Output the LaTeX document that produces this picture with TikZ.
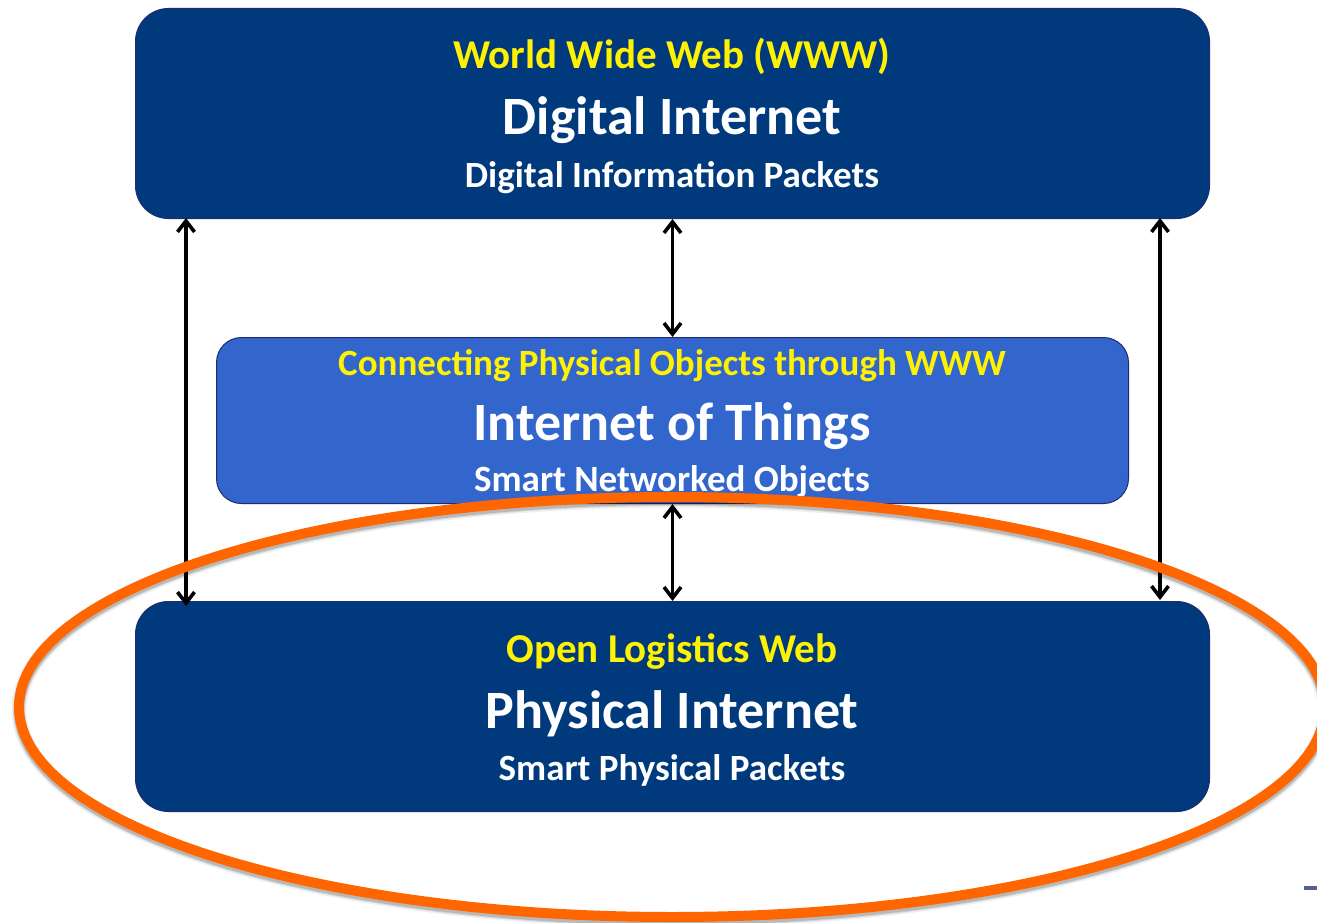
\documentclass[tikz,border=0pt]{standalone}
\usepackage{fontspec}
\setmainfont{Carlito}
\usetikzlibrary{arrows.meta}
\tikzset{
  panel/.style={draw=navyedge,line width=1pt,anchor=north west,inner sep=0pt},
  darkpanel/.style={panel,fill=darkblue,minimum width=1074pt,minimum height=210pt,rounded corners=33pt},
  midpanel/.style={panel,fill=midblue,minimum width=912pt,minimum height=166pt,rounded corners=25pt},
  lab/.style={anchor=base,inner sep=0pt,font=\bfseries},
  headA/.style={lab,text=yellow,font=\bfseries\fontsize{41}{41}\selectfont},
  headB/.style={lab,text=yellow,font=\bfseries\fontsize{37}{37}\selectfont},
  bigA/.style={lab,text=white,font=\bfseries\fontsize{54}{54}\selectfont},
  subA/.style={lab,text=white,font=\bfseries\fontsize{37}{37}\selectfont},
  link/.style={draw=black,line width=3.6pt,{Straight Barb[length=11pt,width=17pt,line width=3.6pt]}-{Straight Barb[length=11pt,width=17pt,line width=3.6pt]}},
  ring/.style={draw=ringorange,line width=10pt}
}
\definecolor{darkblue}{HTML}{003A7D}
\definecolor{midblue}{HTML}{3366CC}
\definecolor{navyedge}{HTML}{1F2A70}
\definecolor{ringorange}{HTML}{FF6600}
\begin{document}
\begin{tikzpicture}[x=1pt,y=-1pt]
\useasboundingbox (0,0) rectangle (1317,923);
\fill[white] (0,0) rectangle (1317,923);
% boxes
\node[darkpanel] (web) at (135,8) {};
\node[midpanel] (iot) at (216,337) {};
\node[darkpanel] (pi) at (135,601) {};
% labels
\node[headA] (t1) at (672,69) {World Wide Web (WWW)};
\node[bigA] (t2) at (672,135) {Digital Internet};
\node[subA] (t3) at (672,187) {Digital Information Packets};
\node[headB] (m1) at (672,375) {Connecting Physical Objects through WWW};
\node[bigA] (m2) at (672,440) {Internet of Things};
\node[subA] (m3) at (672,491) {Smart Networked Objects};
\node[headA] (b1) at (672,662) {Open Logistics Web};
\node[bigA] (b2) at (672,728) {Physical Internet};
\node[subA] (b3) at (672,780) {Smart Physical Packets};
% connector ends on the box edges
\coordinate (wl) at (186,218);
\coordinate (wr) at (1160,218);
\coordinate (pl) at (186,606);
\coordinate (pr) at (1160,600);
% connectors
\draw[link] (web.south) -- (iot.north);
\draw[link] (iot.south) -- (pi.north);
\draw[link] (wl) -- (pl);
\draw[link] (wr) -- (pr);
% ring with soft shadow
\foreach \o/\w in {0.06/15,0.10/12,0.14/10}{
  \draw[black,opacity=\o,line width=\w pt] (672,710) ellipse [x radius=653,y radius=210];
}
\draw[ring] (672,707) ellipse [x radius=653,y radius=210];
% faint mark at the lower right edge
\fill[navyedge,opacity=0.75] (1304,886) rectangle (1317,890);
\end{tikzpicture}
\end{document}
